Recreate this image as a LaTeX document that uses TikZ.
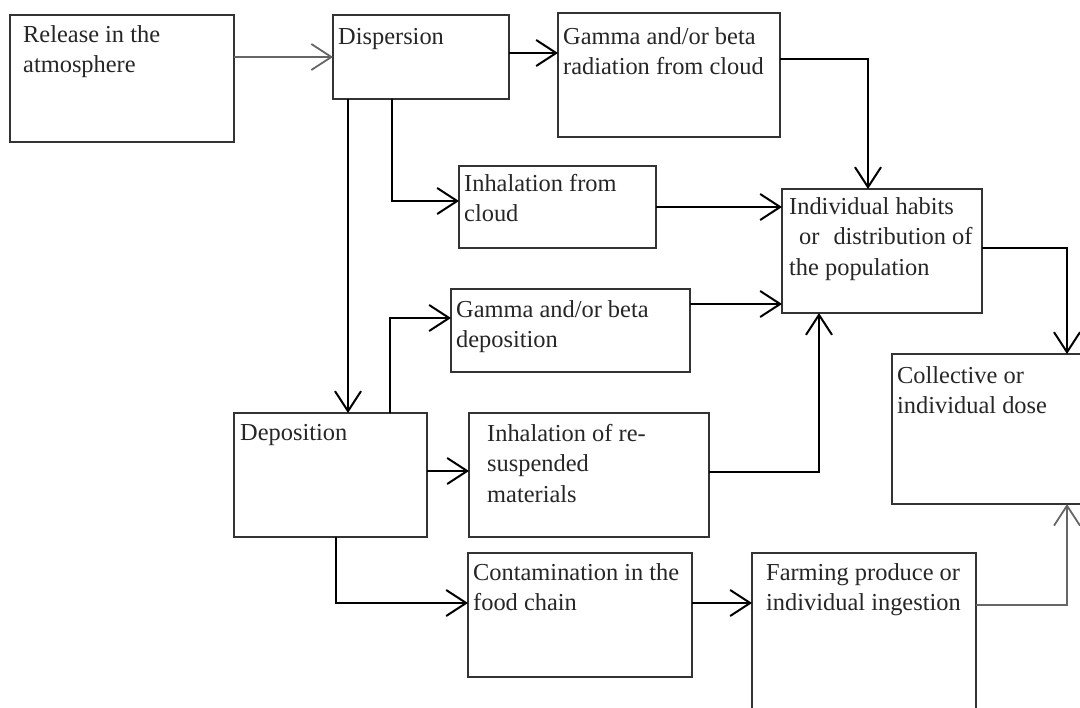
\documentclass[tikz,border=0pt]{standalone}
\usepackage{fontspec}
\setmainfont{Liberation Serif}
\usetikzlibrary{arrows.meta,calc}
\begin{document}
\begin{tikzpicture}[x=1pt,y=-1pt,
  box/.style={draw=black!80, line width=1.6pt, inner sep=0pt, outer sep=0pt, anchor=north west},
  lbl/.style={inner sep=0pt, anchor=north west, align=left, font=\fontsize{24.4}{30.5}\selectfont, text=black!85},
  conn/.style={draw=black, line width=2.6pt, -{Straight Barb[length=20pt,width=26pt,line width=2pt]}},
  thinconn/.style={draw=black!60, line width=1.8pt, -{Straight Barb[length=20pt,width=26pt,line width=1.8pt]}}]
\clip (0,0) rectangle (1080,708);
\fill[white] (0,0) rectangle (1080,708);
% boxes
\node[box, minimum width=224pt, minimum height=127pt] (rel) at (10,15) {};
\node[box, minimum width=176pt, minimum height=84pt] (disp) at (333,15) {};
\node[box, minimum width=222pt, minimum height=124pt] (gcloud) at (558,13) {};
\node[box, minimum width=197pt, minimum height=82pt] (inhc) at (459,166) {};
\node[box, minimum width=200pt, minimum height=124pt] (indiv) at (782,189) {};
\node[box, minimum width=239pt, minimum height=83pt] (gdep) at (451,289) {};
\node[box, minimum width=193pt, minimum height=124pt] (dep) at (234,413) {};
\node[box, minimum width=240pt, minimum height=124pt] (inhr) at (469,413) {};
\node[box, minimum width=224pt, minimum height=124pt] (cont) at (468,553) {};
\node[box, minimum width=224pt, minimum height=170pt] (farm) at (752,553) {};
\node[box, minimum width=210pt, minimum height=150pt] (coll) at (892,354) {};
% labels
\node[lbl] (relt) at ($(rel.north west)+(13,10)$) {Release in the\\atmosphere};
\node[lbl] (dispt) at ($(disp.north west)+(5,13)$) {Dispersion};
\node[lbl] (gcloudt) at ($(gcloud.north west)+(5,14)$) {Gamma and/or beta\\radiation from cloud};
\node[lbl] (inhct) at ($(inhc.north west)+(5,8)$) {Inhalation from\\cloud};
\node[lbl] (indivt) at ($(indiv.north west)+(7,8)$) {Individual habits\\\hspace*{10pt}or\hspace{14pt}distribution of\\the population};
\node[lbl] (gdept) at ($(gdep.north west)+(5,11)$) {Gamma and/or beta\\deposition};
\node[lbl] (dept) at ($(dep.north west)+(6,11)$) {Deposition};
\node[lbl] (inhrt) at ($(inhr.north west)+(18,11)$) {Inhalation of re-\\suspended\\materials};
\node[lbl] (contt) at ($(cont.north west)+(5,10)$) {Contamination in the\\food chain};
\node[lbl] (farmt) at ($(farm.north west)+(14,10)$) {Farming produce or\\individual ingestion};
\node[lbl] (collt) at ($(coll.north west)+(5,12)$) {Collective or\\individual dose};
% connectors
\draw[thinconn] (rel.east |- disp.west) -- (disp.west);
\coordinate (a1) at ($(disp.north east)+(0,38)$);
\draw[conn] (a1) -- (a1 -| gcloud.west);
\draw[conn] ($(disp.south west)+(15,0)$) -- ($(dep.north west)+(114,0)$);
\draw[conn] ($(disp.south west)+(59,0)$) |- ($(inhc.north west)+(0,35)$);
\draw[conn] (inhc.east) -- (inhc.east -| indiv.west);
\draw[conn] ($(gcloud.north east)+(0,46)$) -| ($(indiv.north west)+(86,0)$);
\coordinate (g1) at ($(gdep.north east)+(0,15)$);
\draw[conn] (g1) -- (g1 -| indiv.west);
\draw[conn] ($(dep.north west)+(156,0)$) |- ($(gdep.north west)+(0,29)$);
\coordinate (d1) at ($(dep.north east)+(0,58)$);
\draw[conn] (d1) -- (d1 -| inhr.west);
\draw[conn] ($(inhr.north east)+(0,59)$) -| ($(indiv.south west)+(37,0)$);
\draw[conn] ($(dep.south west)+(102,0)$) |- ($(cont.north west)+(0,50)$);
\coordinate (c1) at ($(cont.north east)+(0,50)$);
\draw[conn] (c1) -- (c1 -| farm.west);
\draw[conn] ($(indiv.north east)+(0,59)$) -| ($(coll.north west)+(175,0)$);
\draw[thinconn] ($(farm.north east)+(0,52)$) -| ($(coll.south west)+(175,0)$);
\end{tikzpicture}
\end{document}
